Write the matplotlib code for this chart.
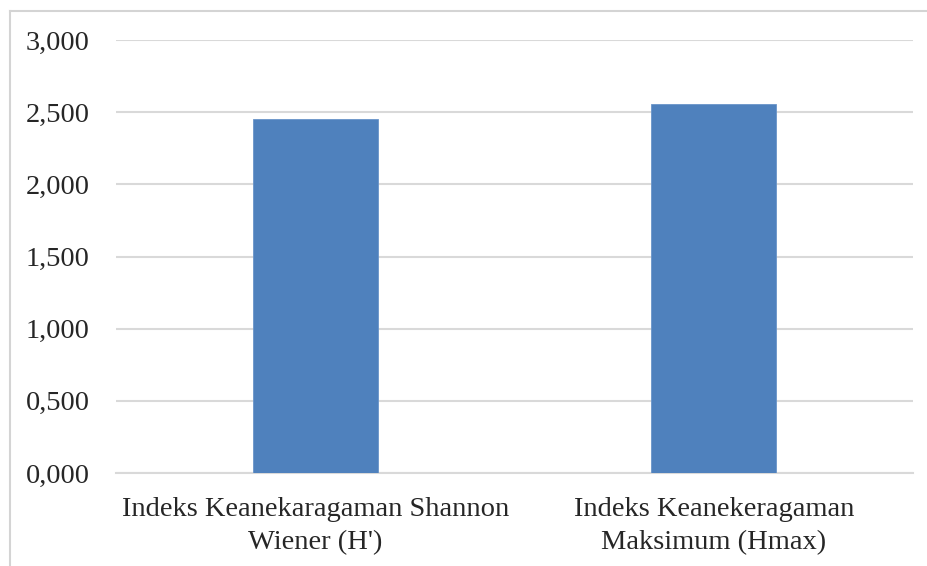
import matplotlib
matplotlib.use("Agg")
import matplotlib.pyplot as plt
from matplotlib.lines import Line2D

# Data
categories = ["Indeks Keanekaragaman Shannon\nWiener (H')",
              "Indeks Keanekeragaman\nMaksimum (Hmax)"]
values = [2.456, 2.557]
yticks = [0.0, 0.5, 1.0, 1.5, 2.0, 2.5, 3.0]

plt.rcParams['font.family'] = ['Liberation Serif', 'DejaVu Serif']

fig = plt.figure(figsize=(9.28, 5.66), dpi=100)
ax = fig.add_axes([0.125, 0.1643, 0.859, 0.765])

x = range(len(categories))
ax.bar(x, values, width=0.314, color='#4F81BD', edgecolor='#6A95C9', linewidth=0.6, zorder=3)

ax.set_xlim(-0.5, len(categories) - 0.5)
ax.set_ylim(0, 3.0)
ax.set_yticks(yticks)
ax.set_yticklabels([f"{v:.3f}".replace('.', ',') for v in yticks])
ax.set_xticks(list(x))
ax.set_xticklabels(categories, linespacing=1.45)

# Gridlines, no frame except baseline
ax.yaxis.grid(True, color='#d9d9d9', linewidth=1.5, zorder=0)
for s in ['top', 'right', 'left']:
    ax.spines[s].set_visible(False)
ax.spines['bottom'].set_color('#d9d9d9')
ax.spines['bottom'].set_linewidth(1.5)
ax.tick_params(axis='both', length=0, labelsize=20.5, colors='#262626')
ax.tick_params(axis='y', pad=19)
ax.tick_params(axis='x', pad=17)

# Light border around the figure (cropped at right and bottom)
W, H = 928, 566
fig.add_artist(Line2D([10 / W, 1], [1 - 11 / H, 1 - 11 / H], color='#d4d4d4', linewidth=1.5))
fig.add_artist(Line2D([10 / W, 10 / W], [0, 1 - 11 / H], color='#d4d4d4', linewidth=1.5))

fig.savefig("out.png", dpi=100)
